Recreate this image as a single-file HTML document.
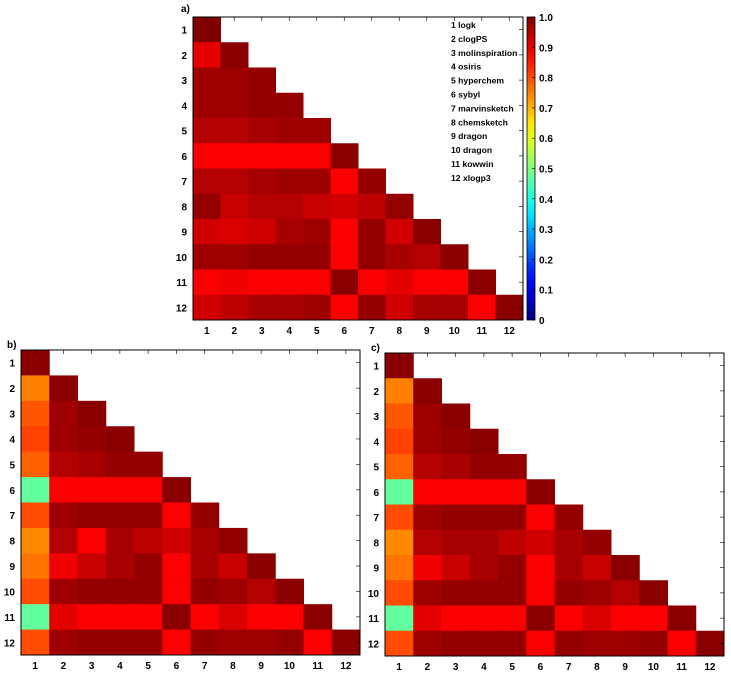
<!DOCTYPE html>
<html><head><meta charset="utf-8"><style>
body{margin:0;background:#fff;width:731px;height:675px;overflow:hidden}
svg text{font-family:"Liberation Sans",Arial,sans-serif;font-weight:bold;font-size:10px;fill:#000}
svg text.lg{font-size:8.6px}
</style></head><body>
<svg id="s" width="731" height="675"></svg>
<script>
const categories=["1","2","3","4","5","6","7","8","9","10","11","12"];
const legendLabels=["1 logk","2 clogPS","3 molinspiration","4 osiris","5  hyperchem","6 sybyl","7 marvinsketch","8 chemsketch"," 9 dragon","10 dragon","11 kowwin","12 xlogp3"];
const colorbarTicks=["0","0.1","0.2","0.3","0.4","0.5","0.6","0.7","0.8","0.9","1.0"];
const valuesA=[
[1.0],
[0.90,0.99],
[0.97,0.97,0.98],
[0.97,0.97,0.98,0.98],
[0.95,0.95,0.96,0.97,0.97],
[0.88,0.88,0.88,0.88,0.88,0.99],
[0.95,0.95,0.96,0.97,0.97,0.88,0.98],
[0.98,0.93,0.95,0.95,0.93,0.92,0.94,0.98],
[0.92,0.91,0.92,0.96,0.97,0.88,0.98,0.92,0.99],
[0.97,0.97,0.98,0.98,0.98,0.88,0.98,0.96,0.95,0.99],
[0.88,0.89,0.88,0.88,0.88,0.99,0.88,0.90,0.88,0.88,0.99],
[0.92,0.94,0.96,0.96,0.97,0.88,0.98,0.92,0.96,0.96,0.88,0.99]];
const valuesB=[
[0.99],
[0.75,0.99],
[0.79,0.97,0.99],
[0.81,0.97,0.98,0.99],
[0.78,0.95,0.96,0.98,0.98],
[0.47,0.88,0.88,0.88,0.88,0.99],
[0.80,0.97,0.98,0.98,0.98,0.88,0.98],
[0.74,0.95,0.88,0.96,0.94,0.92,0.96,0.98],
[0.76,0.89,0.93,0.96,0.98,0.88,0.96,0.93,0.99],
[0.80,0.97,0.98,0.98,0.98,0.88,0.98,0.97,0.95,0.99],
[0.47,0.90,0.88,0.88,0.88,0.99,0.88,0.91,0.88,0.88,0.99],
[0.80,0.97,0.98,0.98,0.98,0.88,0.98,0.97,0.97,0.98,0.88,0.99]];
const valuesC=[
[0.99],
[0.75,0.99],
[0.79,0.97,0.99],
[0.81,0.97,0.98,0.99],
[0.78,0.95,0.96,0.98,0.98],
[0.47,0.88,0.88,0.88,0.88,0.99],
[0.80,0.97,0.98,0.98,0.98,0.88,0.98],
[0.74,0.95,0.96,0.96,0.94,0.92,0.96,0.98],
[0.76,0.89,0.93,0.96,0.98,0.88,0.96,0.93,0.99],
[0.80,0.97,0.98,0.98,0.98,0.88,0.98,0.97,0.95,0.99],
[0.47,0.90,0.88,0.88,0.88,0.99,0.88,0.91,0.88,0.88,0.99],
[0.80,0.97,0.98,0.98,0.98,0.88,0.98,0.97,0.97,0.98,0.88,0.99]];

const NS="http://www.w3.org/2000/svg";
const svg=document.getElementById('s');
function el(tag,attrs,parent){const e=document.createElementNS(NS,tag);for(const k in attrs)e.setAttribute(k,attrs[k]);(parent||svg).appendChild(e);return e;}
function jet(v){
  const c=x=>Math.max(0,Math.min(1,x));
  const r=c(1.5-Math.abs(4*v-3)),g=c(1.5-Math.abs(4*v-2)),b=c(1.5-Math.abs(4*v-1));
  return `rgb(${Math.round(r*255)},${Math.round(g*255)},${Math.round(b*255)})`;
}
function heatmap(name,vals,x0,y0,x1,y1,label,lx,ly){
  const g=el('g',{});
  
  
  const n=categories.length,cw=(x1-x0)/n,ch=(y1-y0)/n;
  const xs=i=>x0+i*cw, ys=i=>y0+i*ch;
  vals.forEach((row,i)=>row.forEach((v,j)=>{
    const r=el('rect',{x:xs(j),y:ys(i),width:cw+0.5,height:ch+0.5,fill:jet(v)},g);
    
    
  }));
  el('rect',{x:x0,y:y0,width:x1-x0,height:y1-y0,fill:'none',stroke:'#000','stroke-width':1},g);
  categories.forEach((c,i)=>{
    const cx=xs(i)+cw/2, cy=ys(i)+ch/2;
    el('line',{x1:cx,y1:y0,x2:cx,y2:y0+4,stroke:'#000','stroke-width':0.6},g);
    el('line',{x1:x1,y1:cy,x2:x1-4,y2:cy,stroke:'#000','stroke-width':0.6},g);
    const tx=el('text',{x:cx,y:y1+14,'text-anchor':'middle'},g);tx.textContent=c;
    
    
    const ty=el('text',{x:x0-6,y:cy+4,'text-anchor':'end'},g);ty.textContent=c;
    
    
  });
  const t=el('text',{x:lx,y:ly},g);t.textContent=label;
  
  
}
heatmap('heatmap-a',valuesA,193,17,523,320,'a)',181,12);
heatmap('heatmap-b',valuesB,21,350,360,655,'b)',7,348);
heatmap('heatmap-c',valuesC,385,353,724,656,'c)',371,351);

// legend
const lg=el('g',{});


legendLabels.forEach((t,i)=>{
  const e=el('text',{x:451,y:28+i*13.9,'class':'lg'},lg);e.textContent=t;
  
  
});
// colorbar
const cb=el('g',{});


const defs=el('defs',{});
const grad=el('linearGradient',{id:'jg',x1:0,y1:1,x2:0,y2:0},defs);
for(let k=0;k<=20;k++)el('stop',{offset:k/20,'stop-color':jet(k/20)},grad);
const cbx=527,cbw=8,cbt=17,cbb=320;
el('rect',{x:cbx,y:cbt,width:cbw,height:cbb-cbt,fill:'url(#jg)',stroke:'#000','stroke-width':0.8},cb);
colorbarTicks.forEach((t,i)=>{
  const y=cbb-(cbb-cbt)*(+t);
  el('line',{x1:cbx+cbw,y1:y,x2:cbx+cbw-3,y2:y,stroke:'#000','stroke-width':0.6},cb);
  const e=el('text',{x:cbx+cbw+4,y:y+4},cb);e.textContent=t;
  
  
});
</script>
</body></html>
